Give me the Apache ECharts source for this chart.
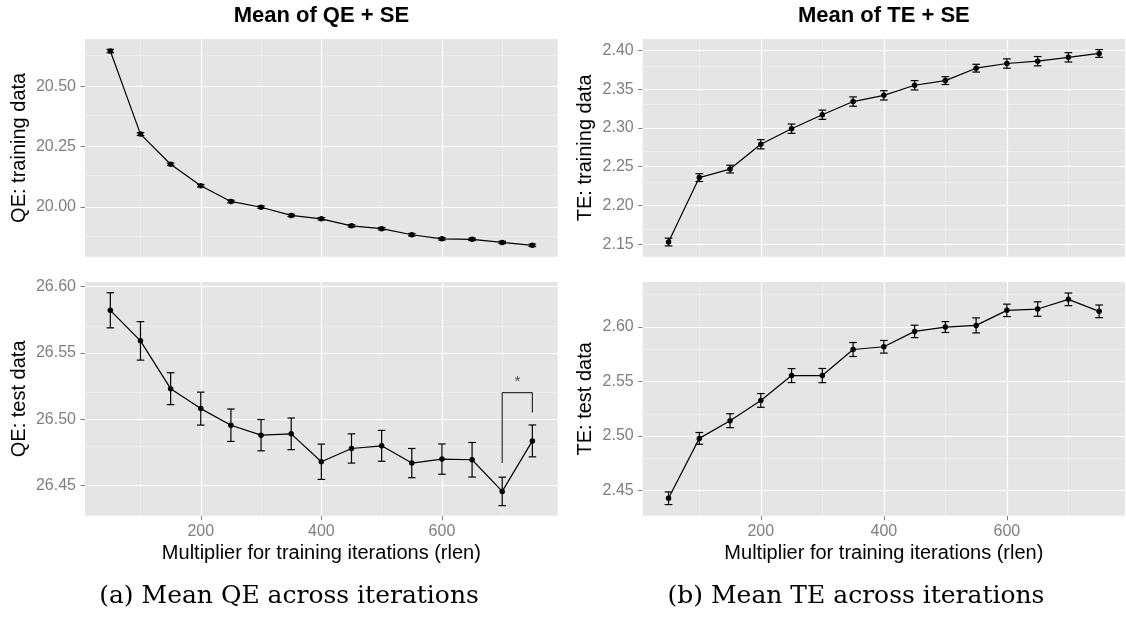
<!DOCTYPE html>
<html>
<head>
<meta charset="utf-8">
<script src="https://cdn.jsdelivr.net/npm/echarts@6/dist/echarts.min.js"></script>
<style>
html,body{margin:0;padding:0;background:#fff;}
#chart{width:1126px;height:617px;}
</style>
</head>
<body>
<div id="chart"></div>
<script>
// ---------- data ----------
const rlen = [50, 100, 150, 200, 250, 300, 350, 400, 450, 500, 550, 600, 650, 700, 750];

const qeTrain   = [20.646, 20.302, 20.177, 20.088, 20.023, 19.999, 19.965, 19.951, 19.922, 19.910, 19.885, 19.868, 19.866, 19.853, 19.841];
const qeTrainSE = [0.007, 0.006, 0.005, 0.005, 0.005, 0.005, 0.005, 0.005, 0.005, 0.005, 0.005, 0.005, 0.005, 0.005, 0.005];

const teTrain   = [2.153, 2.236, 2.247, 2.279, 2.299, 2.317, 2.334, 2.342, 2.355, 2.361, 2.377, 2.383, 2.386, 2.391, 2.396];
const teTrainSE = [0.005, 0.005, 0.005, 0.006, 0.006, 0.006, 0.006, 0.006, 0.006, 0.005, 0.005, 0.006, 0.006, 0.006, 0.005];

const qeTest    = [26.582, 26.559, 26.523, 26.508, 26.4955, 26.488, 26.489, 26.468, 26.478, 26.480, 26.467, 26.470, 26.4695, 26.4457, 26.4837];
const qeTestSE  = [0.0132, 0.0145, 0.0120, 0.0124, 0.0122, 0.0118, 0.0119, 0.0133, 0.0110, 0.0116, 0.0110, 0.0114, 0.0130, 0.0107, 0.0120];

const teTest    = [2.443, 2.4979, 2.5141, 2.5327, 2.5555, 2.5555, 2.5794, 2.5819, 2.596, 2.600, 2.6015, 2.6153, 2.6165, 2.6254, 2.6144];
const teTestSE  = [0.0058, 0.0054, 0.0064, 0.0063, 0.0064, 0.0065, 0.0064, 0.0058, 0.0057, 0.0050, 0.0069, 0.0057, 0.0066, 0.0058, 0.0058];

// significance bracket (QE test data, 700 vs 750)
const bracketX = [700, 700, 750, 750];
const bracketY = [26.467, 26.520, 26.520, 26.505];
const starPos  = [725, 26.528];
const starText = '*';

// axis ticks
const xTicks = [200, 400, 600];
const xMinor = [100, 300, 500, 700];
const xRange = [8, 792];

const qeTrainTicks = [20.00, 20.25, 20.50];
const qeTrainMinor = [19.875, 20.125, 20.375, 20.625];
const qeTrainRange = [19.794, 20.696];

const teTrainTicks = [2.15, 2.20, 2.25, 2.30, 2.35, 2.40];
const teTrainMinor = [2.175, 2.225, 2.275, 2.325, 2.375];
const teTrainRange = [2.1341, 2.4146];

const qeTestTicks = [26.45, 26.50, 26.55, 26.60];
const qeTestMinor = [26.475, 26.525, 26.575];
const qeTestRange = [26.4274, 26.6033];

const teTestTicks = [2.45, 2.50, 2.55, 2.60];
const teTestMinor = [2.475, 2.525, 2.575, 2.625];
const teTestRange = [2.427, 2.6413];

const titles = ['Mean of QE + SE', 'Mean of TE + SE'];
const yNames = ['QE: training data', 'TE: training data', 'QE: test data', 'TE: test data'];
const xName = 'Multiplier for training iterations (rlen)';
const captions = ['(a) Mean QE across iterations', '(b) Mean TE across iterations'];

// ---------- build ----------
const SANS = 'Liberation Sans, Arial, sans-serif';
const CAP = 6.25;
const grids = [
  {left: 85,    top: 39,  width: 472.7, height: 217.7},
  {left: 642.7, top: 39,  width: 482.3, height: 217.7},
  {left: 85,    top: 282, width: 472.7, height: 233.7},
  {left: 642.7, top: 282, width: 482.3, height: 233.7}
];
const panels = [
  {y: qeTrain, se: qeTrainSE, ticks: qeTrainTicks, minor: qeTrainMinor, range: qeTrainRange, showX: false, gap: 56},
  {y: teTrain, se: teTrainSE, ticks: teTrainTicks, minor: teTrainMinor, range: teTrainRange, showX: false, gap: 47},
  {y: qeTest,  se: qeTestSE,  ticks: qeTestTicks,  minor: qeTestMinor,  range: qeTestRange,  showX: true,  gap: 56},
  {y: teTest,  se: teTestSE,  ticks: teTestTicks,  minor: teTestMinor,  range: teTestRange,  showX: true,  gap: 47}
];

function errRender(params, api) {
  const x = api.value(0), lo = api.value(1), hi = api.value(2);
  const pLo = api.coord([x, lo]), pHi = api.coord([x, hi]);
  const xl = api.coord([x - CAP, hi])[0], xr = api.coord([x + CAP, hi])[0];
  const style = {stroke: '#000', lineWidth: 1.2, fill: null};
  return {type: 'group', children: [
    {type: 'line', shape: {x1: pLo[0], y1: pLo[1], x2: pHi[0], y2: pHi[1]}, style: style},
    {type: 'line', shape: {x1: xl, y1: pHi[1], x2: xr, y2: pHi[1]}, style: style},
    {type: 'line', shape: {x1: xl, y1: pLo[1], x2: xr, y2: pLo[1]}, style: style}
  ]};
}

const majorStyle = {color: '#ffffff', width: 1.2, type: 'solid'};
const minorStyle = {color: '#f2f2f2', width: 0.6, type: 'solid'};

const xAxes = [], yAxes = [], series = [];
panels.forEach((p, i) => {
  xAxes.push({
    type: 'value', gridIndex: i, min: xRange[0], max: xRange[1],
    axisLine: {show: false}, splitLine: {show: false},
    axisTick: {show: p.showX, customValues: xTicks, length: 4.5, lineStyle: {color: '#7f7f7f', width: 1}},
    axisLabel: {show: p.showX, customValues: xTicks, color: '#7f7f7f', fontSize: 16, fontFamily: SANS, margin: 8},
    name: p.showX ? xName : '', nameLocation: 'middle', nameGap: 28,
    nameTextStyle: {color: '#000', fontSize: 20, fontFamily: SANS}
  });
  yAxes.push({
    type: 'value', gridIndex: i, min: p.range[0], max: p.range[1],
    axisLine: {show: false}, splitLine: {show: false},
    axisTick: {show: true, customValues: p.ticks, length: 4.5, lineStyle: {color: '#7f7f7f', width: 1}},
    axisLabel: {customValues: p.ticks, color: '#7f7f7f', fontSize: 16, fontFamily: SANS, margin: 9,
      formatter: v => Number(v).toFixed(2)},
    name: yNames[i], nameLocation: 'middle', nameGap: p.gap, nameRotate: 90,
    nameTextStyle: {color: '#000', fontSize: 20, fontFamily: SANS}
  });
  const pts = rlen.map((x, k) => [x, p.y[k]]);
  const ml = [];
  p.minor.forEach(v => ml.push({yAxis: v, lineStyle: minorStyle}));
  xMinor.forEach(v => ml.push({xAxis: v, lineStyle: minorStyle}));
  p.ticks.forEach(v => ml.push({yAxis: v, lineStyle: majorStyle}));
  xTicks.forEach(v => ml.push({xAxis: v, lineStyle: majorStyle}));
  series.push({
    type: 'line', xAxisIndex: i, yAxisIndex: i, data: pts, z: 1,
    symbol: 'none', lineStyle: {opacity: 0}, silent: true,
    markLine: {z: 1, silent: true, symbol: ['none', 'none'], label: {show: false}, animation: false, data: ml}
  });
  series.push({
    type: 'custom', xAxisIndex: i, yAxisIndex: i, z: 3,
    data: rlen.map((x, k) => [x, p.y[k] - p.se[k], p.y[k] + p.se[k]]),
    encode: {x: 0, y: [1, 2]}, renderItem: errRender, silent: true
  });
  series.push({
    type: 'line', xAxisIndex: i, yAxisIndex: i, z: 4, data: pts,
    symbol: 'circle', symbolSize: 5.5, showSymbol: true,
    itemStyle: {color: '#000'}, lineStyle: {color: '#000', width: 1.2}, silent: true
  });
});
// bracket + star on QE test panel
series.push({
  type: 'line', xAxisIndex: 2, yAxisIndex: 2, z: 4,
  data: bracketX.map((x, k) => [x, bracketY[k]]),
  symbol: 'none', lineStyle: {color: '#333', width: 1.2}, silent: true
});
series.push({
  type: 'scatter', xAxisIndex: 2, yAxisIndex: 2, z: 4,
  data: [starPos], symbolSize: 1, itemStyle: {color: 'transparent'}, silent: true,
  label: {show: true, position: 'inside', formatter: starText, color: '#222', fontSize: 15, fontFamily: SANS}
});

const graphic = [];
const centers = [85 + 472.7 / 2, 642.7 + 482.3 / 2];
titles.forEach((t, i) => graphic.push({
  type: 'text', x: centers[i], y: 16,
  style: {text: t, font: 'bold 22px ' + SANS, fill: '#000', align: 'center', verticalAlign: 'middle',
          textAlign: 'center', textVerticalAlign: 'middle'}
}));
const capCenters = [289, 856];
captions.forEach((t, i) => graphic.push({
  type: 'text', x: capCenters[i], y: 596,
  style: {text: t, font: '25px "DejaVu Serif", serif', fill: '#000', align: 'center', verticalAlign: 'middle',
          textAlign: 'center', textVerticalAlign: 'middle'}
}));

const chart = echarts.init(document.getElementById('chart'), null, {renderer: 'canvas'});
chart.setOption({
  animation: false,
  backgroundColor: '#ffffff',
  grid: grids.map(g => Object.assign({show: true, backgroundColor: '#e5e5e5', borderWidth: 0, containLabel: false}, g)),
  xAxis: xAxes,
  yAxis: yAxes,
  series: series,
  graphic: graphic
});
</script>
</body>
</html>
